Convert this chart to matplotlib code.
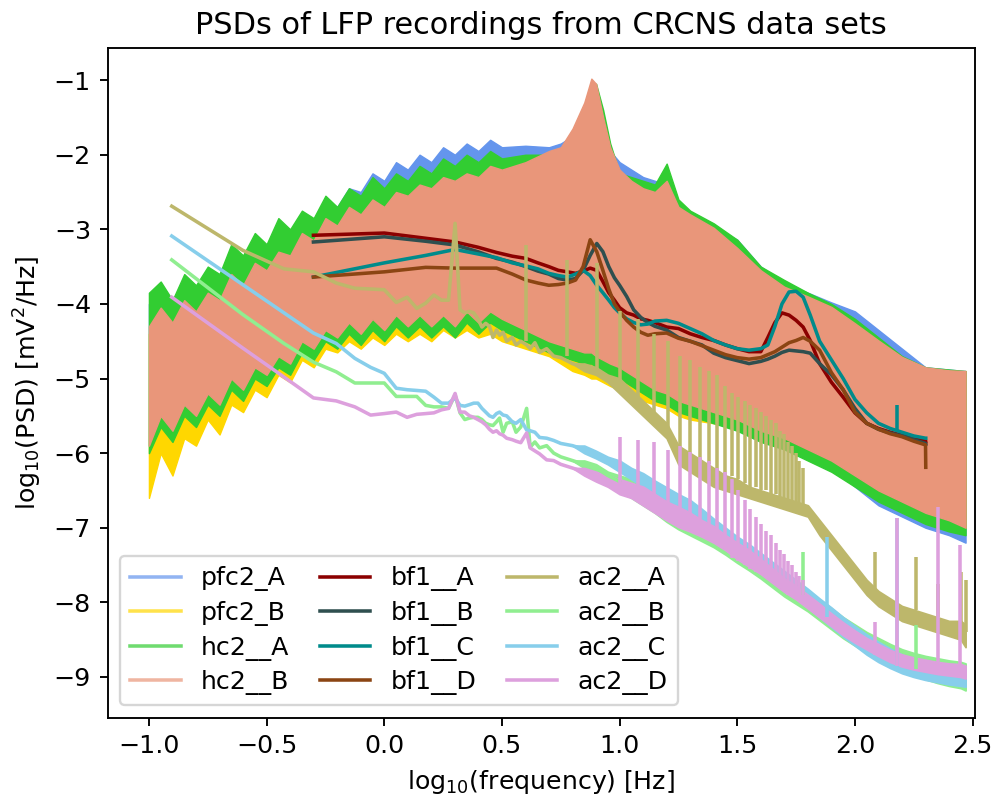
import matplotlib
matplotlib.use("Agg")
import matplotlib.pyplot as plt
import numpy as np

# ---- broadband recordings (pfc2, hc2): envelopes of the dense PSD traces ----
xk = [-1.0, -0.95, -0.9, -0.85, -0.8, -0.75, -0.7, -0.65, -0.6, -0.55, -0.5, -0.45,
      -0.4, -0.35, -0.3, -0.25, -0.2, -0.15, -0.1, -0.05, 0.0, 0.05, 0.1, 0.15, 0.2,
      0.25, 0.3, 0.35, 0.4, 0.45, 0.5, 0.6, 0.7, 0.75, 0.8, 0.85, 0.88, 0.9, 0.93,
      0.96, 1.0, 1.05, 1.1, 1.15, 1.2, 1.25, 1.3, 1.4, 1.5, 1.6, 1.7, 1.8, 1.9, 2.0,
      2.1, 2.2, 2.3, 2.4, 2.47]

pfc2_a_hi = [-4.0, -3.85, -4.05, -3.75, -3.9, -3.65, -3.75, -3.4, -3.5, -3.2, -3.3, -3.0,
             -3.1, -2.8, -2.9, -2.6, -2.7, -2.45, -2.5, -2.25, -2.35, -2.1, -2.2, -2.0, -2.1,
             -1.9, -2.0, -1.85, -1.95, -1.8, -1.9, -1.88, -1.9, -1.85, -1.75, -1.45, -1.2, -1.15, -1.55,
             -1.95, -2.1, -2.2, -2.3, -2.35, -2.4, -2.62, -2.78, -2.97, -3.14, -3.5, -3.72, -3.85, -3.98, -4.1,
             -4.35, -4.6, -4.85, -4.88, -4.9]
pfc2_a_lo = [-5.9, -5.55, -5.75, -5.4, -5.55, -5.25, -5.4, -5.05, -5.2, -4.9, -5.0, -4.75,
             -4.85, -4.55, -4.65, -4.4, -4.5, -4.3, -4.45, -4.25, -4.4, -4.2, -4.35, -4.2, -4.35,
             -4.2, -4.35, -4.15, -4.3, -4.15, -4.25, -4.45, -4.6, -4.65, -4.7, -4.75, -4.75, -4.8, -4.85,
             -4.9, -4.95, -5.05, -5.15, -5.25, -5.3, -5.4, -5.45, -5.55, -5.65, -5.8, -5.9, -6.05, -6.2, -6.45,
             -6.7, -6.85, -7.0, -7.1, -7.2]

pfc2_b_hi = [-4.4, -4.2, -4.35, -4.05, -4.2, -3.95, -4.05, -3.7, -3.85, -3.55, -3.65, -3.4,
             -3.45, -3.15, -3.25, -2.95, -3.05, -2.8, -2.9, -2.7, -2.8, -2.6, -2.65, -2.5, -2.55,
             -2.4, -2.45, -2.35, -2.4, -2.25, -2.3, -2.2, -2.05, -2.0, -1.75, -1.4, -1.1, -1.15, -1.6,
             -2.0, -2.3, -2.45, -2.55, -2.6, -2.45, -2.8, -2.9, -3.1, -3.35, -3.65, -3.85, -4.0, -4.15, -4.35,
             -4.6, -4.8, -4.95, -4.95, -4.9]
pfc2_b_lo = [-6.6, -6.0, -6.3, -5.8, -5.9, -5.55, -5.75, -5.35, -5.45, -5.15, -5.25, -4.95,
             -5.05, -4.75, -4.85, -4.6, -4.65, -4.5, -4.6, -4.45, -4.55, -4.4, -4.5, -4.4, -4.5,
             -4.35, -4.45, -4.35, -4.45, -4.4, -4.5, -4.6, -4.7, -4.8, -4.9, -4.95, -5.0, -5.0, -5.05,
             -5.1, -5.15, -5.2, -5.3, -5.35, -5.4, -5.5, -5.55, -5.6, -5.65, -5.8, -5.9, -6.0, -6.15, -6.3,
             -6.5, -6.65, -6.8, -6.9, -7.0]

hc2_a_hi = [-3.85, -3.7, -3.95, -3.6, -3.75, -3.5, -3.6, -3.2, -3.35, -3.05, -3.2, -2.85,
            -3.0, -2.75, -2.85, -2.55, -2.7, -2.45, -2.55, -2.3, -2.45, -2.25, -2.35, -2.15, -2.25,
            -2.05, -2.15, -2.0, -2.1, -1.95, -2.05, -2.0, -2.0, -1.95, -1.75, -1.35, -1.05, -1.05, -1.4,
            -1.85, -2.25, -2.3, -2.35, -2.4, -2.12, -2.6, -2.75, -2.92, -3.14, -3.5, -3.68, -3.85, -4.0, -4.2,
            -4.45, -4.7, -4.85, -4.88, -4.9]
hc2_a_lo = [-6.0, -5.65, -5.85, -5.5, -5.65, -5.35, -5.5, -5.15, -5.3, -5.0, -5.1, -4.85,
            -4.95, -4.65, -4.75, -4.5, -4.6, -4.4, -4.55, -4.35, -4.5, -4.3, -4.45, -4.3, -4.45,
            -4.3, -4.45, -4.25, -4.4, -4.25, -4.35, -4.5, -4.65, -4.7, -4.75, -4.8, -4.8, -4.85, -4.9,
            -4.95, -5.0, -5.1, -5.2, -5.3, -5.35, -5.45, -5.5, -5.6, -5.7, -5.85, -5.95, -6.1, -6.25, -6.45,
            -6.65, -6.8, -6.95, -7.05, -7.1]

hc2_b_hi = [-4.3, -4.05, -4.25, -3.95, -4.1, -3.85, -3.95, -3.6, -3.75, -3.45, -3.55, -3.3,
            -3.35, -3.05, -3.15, -2.85, -2.95, -2.7, -2.8, -2.6, -2.7, -2.5, -2.55, -2.4, -2.45,
            -2.3, -2.35, -2.25, -2.3, -2.15, -2.2, -2.1, -1.95, -1.9, -1.65, -1.3, -0.98, -1.05, -1.5,
            -1.9, -2.2, -2.35, -2.45, -2.5, -2.35, -2.7, -2.8, -2.98, -3.25, -3.55, -3.77, -3.9, -4.04, -4.26,
            -4.49, -4.71, -4.85, -4.89, -4.9]
hc2_b_lo = [-5.9, -5.5, -5.7, -5.35, -5.5, -5.2, -5.35, -5.0, -5.15, -4.85, -4.95, -4.7,
            -4.8, -4.5, -4.6, -4.35, -4.45, -4.25, -4.4, -4.2, -4.35, -4.15, -4.3, -4.15, -4.3,
            -4.15, -4.3, -4.1, -4.25, -4.1, -4.2, -4.35, -4.5, -4.55, -4.6, -4.65, -4.65, -4.7, -4.75,
            -4.8, -4.85, -4.95, -5.05, -5.15, -5.2, -5.3, -5.35, -5.45, -5.55, -5.7, -5.8, -5.95, -6.1, -6.3,
            -6.5, -6.65, -6.8, -6.9, -7.0]

# ---- bf1 recordings (log10 frequency, log10 PSD) ----
bf1_x = [-0.301, 0.0, 0.176, 0.301, 0.398, 0.477, 0.544, 0.602, 0.653, 0.699, 0.74, 0.778,
         0.813, 0.845, 0.875, 0.903, 0.929, 0.954, 0.978, 1.0, 1.03, 1.06, 1.09, 1.12, 1.15,
         1.2, 1.25, 1.3, 1.35, 1.4, 1.45, 1.5, 1.55, 1.6, 1.63, 1.66, 1.69, 1.72, 1.75, 1.78,
         1.81, 1.85, 1.9, 1.95, 2.0, 2.05, 2.1, 2.15, 2.2, 2.25, 2.3, 2.301]
bf1_a = [-3.08, -3.05, -3.12, -3.17, -3.24, -3.31, -3.36, -3.39, -3.45, -3.5, -3.55, -3.57,
         -3.59, -3.56, -3.52, -3.55, -3.7, -3.85, -3.95, -4.05, -4.12, -4.15, -4.2, -4.22, -4.25,
         -4.31, -4.33, -4.4, -4.45, -4.49, -4.55, -4.6, -4.64, -4.64, -4.45, -4.25, -4.12, -4.15, -4.22, -4.31,
         -4.49, -4.8, -5.05, -5.25, -5.46, -5.6, -5.67, -5.72, -5.76, -5.8, -5.83, -5.85]
bf1_b = [-3.17, -3.1, -3.16, -3.21, -3.3, -3.39, -3.44, -3.5, -3.56, -3.6, -3.66, -3.68,
         -3.66, -3.55, -3.35, -3.19, -3.3, -3.5, -3.65, -3.75, -3.9, -4.08, -4.18, -4.25, -4.3,
         -4.35, -4.45, -4.5, -4.55, -4.66, -4.72, -4.76, -4.8, -4.77, -4.74, -4.7, -4.65, -4.62, -4.63, -4.64,
         -4.66, -4.8, -4.95, -5.15, -5.4, -5.6, -5.68, -5.73, -5.77, -5.82, -5.87, -5.88]
bf1_c = [-3.64, -3.45, -3.35, -3.27, -3.33, -3.38, -3.45, -3.49, -3.53, -3.59, -3.62, -3.64,
         -3.6, -3.55, -3.62, -3.75, -3.85, -3.95, -4.05, -4.12, -4.2, -4.25, -4.28, -4.27, -4.23,
         -4.22, -4.26, -4.33, -4.4, -4.49, -4.55, -4.6, -4.62, -4.6, -4.55, -4.3, -4.0, -3.84, -3.83, -3.91,
         -4.15, -4.5, -4.75, -5.0, -5.28, -5.46, -5.6, -5.67, -5.72, -5.77, -5.8, -5.8]
bf1_d = [-3.64, -3.57, -3.51, -3.52, -3.52, -3.52, -3.6, -3.68, -3.72, -3.75, -3.74, -3.72,
         -3.68, -3.5, -3.14, -3.3, -3.55, -3.8, -4.0, -4.1, -4.22, -4.31, -4.38, -4.42, -4.4,
         -4.39, -4.46, -4.5, -4.56, -4.62, -4.68, -4.72, -4.74, -4.72, -4.68, -4.64, -4.58, -4.52, -4.49, -4.45,
         -4.5, -4.62, -4.92, -5.15, -5.45, -5.6, -5.68, -5.74, -5.78, -5.84, -5.89, -6.19]
# narrow line-noise peak in bf1__C
bf1_c_spike_x = [2.178]
bf1_c_spike_lo = [-5.7]
bf1_c_spike_hi = [-5.36]

# ---- ac2 recordings: low-frequency trace, high-frequency noise band, harmonic spikes ----
ac2_x = [-0.903, -0.602, -0.426, -0.301, -0.204, -0.125, -0.058, 0.0, 0.051, 0.097, 0.138,
         0.176, 0.211, 0.243, 0.273, 0.301, 0.322, 0.342, 0.362, 0.38, 0.398, 0.415, 0.431,
         0.447, 0.462, 0.477, 0.49, 0.505, 0.52, 0.544, 0.56, 0.58, 0.605, 0.62, 0.64, 0.66,
         0.69, 0.72, 0.75, 0.8, 0.85, 0.9, 0.95, 1.0]
ac2_a = [-2.69, -3.28, -3.53, -3.57, -3.72, -3.79, -3.8, -3.81, -3.98, -3.91, -4.06,
         -3.99, -3.88, -3.95, -3.95, -2.92, -4.08, -4.12, -4.1, -4.12, -4.2, -4.31, -4.26,
         -4.3, -4.45, -4.35, -4.42, -4.38, -4.5, -4.45, -4.55, -4.5, -4.55, -4.6, -4.52, -4.65,
         -4.6, -4.7, -4.72, -4.8, -4.85, -4.9, -5.0, -5.1]
ac2_b = [-3.41, -4.14, -4.53, -4.78, -4.91, -5.06, -5.06, -5.06, -5.24, -5.24, -5.24,
         -5.36, -5.38, -5.38, -5.4, -5.22, -5.46, -5.55, -5.53, -5.52, -5.52, -5.55, -5.6,
         -5.62, -5.63, -5.58, -5.53, -5.72, -5.6, -5.58, -5.72, -5.65, -5.4, -5.92, -5.85, -5.93,
         -5.9, -6.0, -6.05, -6.1, -6.15, -6.2, -6.3, -6.38]
ac2_c = [-3.09, -3.74, -4.12, -4.39, -4.53, -4.73, -4.85, -4.93, -5.13, -5.15, -5.16,
         -5.17, -5.25, -5.33, -5.33, -5.26, -5.36, -5.37, -5.35, -5.33, -5.33, -5.4, -5.45,
         -5.5, -5.52, -5.47, -5.45, -5.49, -5.5, -5.58, -5.6, -5.55, -5.69, -5.7, -5.72, -5.79,
         -5.8, -5.83, -5.87, -5.9, -5.95, -6.02, -6.1, -6.15]
ac2_d = [-3.91, -4.59, -4.98, -5.26, -5.3, -5.38, -5.49, -5.47, -5.45, -5.52, -5.48,
         -5.47, -5.46, -5.42, -5.4, -5.2, -5.45, -5.45, -5.5, -5.52, -5.55, -5.58, -5.62,
         -5.68, -5.72, -5.7, -5.74, -5.76, -5.8, -5.82, -5.84, -5.86, -5.73, -5.93, -5.97, -6.01,
         -6.09, -6.1, -6.15, -6.2, -6.25, -6.3, -6.38, -6.45]

ac2_band_x = [0.8, 0.85, 0.9, 0.95, 1.0, 1.05, 1.1, 1.15, 1.2, 1.25, 1.3, 1.35, 1.4, 1.45,
              1.5, 1.55, 1.6, 1.65, 1.7, 1.75, 1.8, 1.85, 1.9, 1.95, 2.0, 2.05, 2.1, 2.15,
              2.2, 2.25, 2.3, 2.35, 2.4, 2.45, 2.47]
ac2_a_hi = [-4.8, -4.8, -4.85, -4.95, -5.0, -5.15, -5.3, -5.45, -5.6, -5.9, -6.0, -6.1, -6.2, -6.3,
            -6.35, -6.45, -6.5, -6.55, -6.6, -6.65, -6.7, -6.9, -7.1, -7.3, -7.5, -7.7, -7.85, -7.95,
            -8.05, -8.1, -8.15, -8.2, -8.25, -8.25, -8.3]
ac2_a_lo = [-4.8, -4.9, -4.95, -5.05, -5.2, -5.35, -5.5, -5.65, -5.8, -6.15, -6.25, -6.35, -6.45, -6.5,
            -6.55, -6.6, -6.65, -6.7, -6.75, -6.8, -6.85, -7.1, -7.3, -7.5, -7.7, -7.9, -8.05, -8.15,
            -8.25, -8.3, -8.35, -8.4, -8.45, -8.5, -8.6]
ac2_b_hi = [-6.1, -6.1, -6.15, -6.25, -6.3, -6.35, -6.4, -6.5, -6.6, -6.7, -6.78, -6.88, -6.98, -7.1,
            -7.2, -7.3, -7.42, -7.53, -7.64, -7.74, -7.84, -7.96, -8.08, -8.2, -8.3, -8.4, -8.48, -8.56,
            -8.63, -8.68, -8.72, -8.75, -8.78, -8.8, -8.82]
ac2_b_lo = [-6.1, -6.2, -6.25, -6.4, -6.5, -6.6, -6.7, -6.8, -6.92, -7.02, -7.1, -7.18, -7.26, -7.36,
            -7.47, -7.57, -7.68, -7.8, -7.92, -8.02, -8.12, -8.24, -8.36, -8.48, -8.58, -8.68, -8.77, -8.85,
            -8.92, -8.98, -9.03, -9.08, -9.12, -9.15, -9.18]
ac2_c_hi = [-5.9, -5.9, -5.97, -6.05, -6.1, -6.2, -6.27, -6.37, -6.46, -6.55, -6.63, -6.75, -6.88, -7.0,
            -7.12, -7.22, -7.34, -7.46, -7.58, -7.7, -7.82, -7.95, -8.07, -8.2, -8.32, -8.43, -8.53, -8.62,
            -8.7, -8.76, -8.8, -8.84, -8.88, -8.9, -8.92]
ac2_c_lo = [-5.9, -6.0, -6.07, -6.15, -6.25, -6.35, -6.45, -6.55, -6.65, -6.75, -6.85, -6.98, -7.1, -7.22,
            -7.35, -7.46, -7.58, -7.7, -7.82, -7.95, -8.07, -8.2, -8.33, -8.46, -8.58, -8.7, -8.8, -8.88,
            -8.95, -9.0, -9.04, -9.07, -9.1, -9.12, -9.13]
ac2_d_hi = [-6.2, -6.2, -6.25, -6.3, -6.35, -6.4, -6.45, -6.55, -6.65, -6.72, -6.8, -6.9, -6.98, -7.1,
            -7.2, -7.3, -7.42, -7.55, -7.68, -7.78, -7.9, -8.02, -8.15, -8.27, -8.38, -8.48, -8.56, -8.64,
            -8.7, -8.74, -8.77, -8.8, -8.82, -8.83, -8.85]
ac2_d_lo = [-6.2, -6.3, -6.38, -6.45, -6.55, -6.6, -6.7, -6.8, -6.9, -6.99, -7.05, -7.12, -7.2, -7.3,
            -7.42, -7.52, -7.62, -7.74, -7.86, -7.96, -8.08, -8.2, -8.32, -8.44, -8.54, -8.63, -8.72, -8.8,
            -8.86, -8.9, -8.93, -8.96, -8.98, -9.0, -9.02]

# harmonic peaks (every 2 Hz) in log10 frequency
ac2_a_spike_x = [0.602, 0.778, 0.903, 1.0, 1.079, 1.146, 1.204, 1.255, 1.301, 1.342, 1.38, 1.415,
                 1.447, 1.477, 1.505, 1.531, 1.556, 1.58, 1.602, 1.623, 1.643, 1.663, 1.681, 1.699,
                 1.716, 1.732, 1.748, 1.763, 1.778, 2.085, 2.26, 2.355, 2.45, 2.47]
ac2_a_spike_lo = [-4.5, -4.7, -4.9, -5.1, -5.3, -5.45, -5.65, -5.95, -6.0, -6.1, -6.15, -6.25,
                  -6.3, -6.3, -6.35, -6.4, -6.45, -6.45, -6.5, -6.5, -6.55, -6.55, -6.6, -6.6,
                  -6.65, -6.65, -6.65, -6.7, -6.7, -7.9, -8.1, -8.2, -8.3, -8.4]
ac2_a_spike_hi = [-3.21, -3.41, -3.45, -4.1, -4.2, -4.4, -4.5, -4.7, -4.75, -4.85, -4.9, -4.95,
                  -5.1, -5.2, -5.25, -5.3, -5.35, -5.4, -5.45, -5.5, -5.55, -5.6, -5.7, -5.75,
                  -5.85, -5.9, -6.0, -6.1, -6.2, -7.33, -7.39, -7.75, -7.6, -7.7]
ac2_b_spike_x = [1.78, 2.26]
ac2_b_spike_lo = [-7.9, -8.9]
ac2_b_spike_hi = [-7.33, -8.3]
ac2_c_spike_x = [1.88, 2.18]
ac2_c_spike_lo = [-8.2, -8.9]
ac2_c_spike_hi = [-7.13, -6.87]
ac2_d_spike_x = [1.0, 1.079, 1.146, 1.204, 1.255, 1.301, 1.342, 1.38, 1.415, 1.447, 1.477, 1.505,
                 1.531, 1.556, 1.58, 1.602, 1.623, 1.643, 1.663, 1.681, 1.699, 1.716, 1.732, 1.748,
                 1.763, 1.778, 2.085, 2.18, 2.355, 2.445]
ac2_d_spike_lo = [-6.5, -6.65, -6.75, -6.85, -6.95, -7.05, -7.1, -7.15, -7.2, -7.3, -7.4, -7.45,
                  -7.5, -7.55, -7.6, -7.62, -7.65, -7.7, -7.75, -7.8, -7.85, -7.9, -7.92, -7.95,
                  -7.98, -8.0, -8.7, -8.85, -8.95, -9.0]
ac2_d_spike_hi = [-5.79, -5.83, -5.85, -5.96, -5.9, -5.99, -6.05, -6.1, -6.2, -6.25, -6.35, -6.5,
                  -6.63, -6.75, -6.85, -6.95, -7.05, -7.1, -7.2, -7.3, -7.35, -7.45, -7.5, -7.6,
                  -7.65, -7.7, -8.27, -6.87, -6.72, -7.23]


def main():
    plt.rcParams['font.size'] = 10.7
    fig = plt.figure(figsize=(1002 / 170, 798 / 170), dpi=170)
    ax = fig.add_axes([0.1073, 0.1003, 0.8657, 0.8395])

    broad = [("pfc2_A", "cornflowerblue", pfc2_a_lo, pfc2_a_hi),
             ("pfc2_B", "gold", pfc2_b_lo, pfc2_b_hi),
             ("hc2__A", "limegreen", hc2_a_lo, hc2_a_hi),
             ("hc2__B", "darksalmon", hc2_b_lo, hc2_b_hi)]
    for name, col, lo, hi in broad:
        ax.fill_between(xk, lo, hi, color=col, linewidth=0.6)
        ax.plot([], [], color=col, alpha=0.7, lw=1.5, label=name)

    for name, col, ys in [("bf1__A", "darkred", bf1_a), ("bf1__B", "darkslategray", bf1_b),
                          ("bf1__C", "darkcyan", bf1_c), ("bf1__D", "saddlebrown", bf1_d)]:
        ax.plot(bf1_x, ys, color=col, lw=1.5, label=name)
    ax.vlines(bf1_c_spike_x, bf1_c_spike_lo, bf1_c_spike_hi, color="darkcyan", lw=1.5)

    ac2 = [("ac2__A", "darkkhaki", ac2_a, ac2_a_lo, ac2_a_hi, ac2_a_spike_x, ac2_a_spike_lo, ac2_a_spike_hi),
           ("ac2__B", "lightgreen", ac2_b, ac2_b_lo, ac2_b_hi, ac2_b_spike_x, ac2_b_spike_lo, ac2_b_spike_hi),
           ("ac2__C", "skyblue", ac2_c, ac2_c_lo, ac2_c_hi, ac2_c_spike_x, ac2_c_spike_lo, ac2_c_spike_hi),
           ("ac2__D", "plum", ac2_d, ac2_d_lo, ac2_d_hi, ac2_d_spike_x, ac2_d_spike_lo, ac2_d_spike_hi)]
    for name, col, ys, lo, hi, sx, slo, shi in ac2:
        ax.plot(ac2_x, ys, color=col, lw=1.5, label=name)
        ax.fill_between(ac2_band_x, lo, hi, color=col, linewidth=0.8)
        ax.vlines(sx, slo, shi, color=col, lw=1.5)

    ax.set_xlim(-1.176, 2.51)
    ax.set_ylim(-9.55, -0.57)
    ax.set_yticks(np.arange(-9, 0))
    ax.set_title("PSDs of LFP recordings from CRCNS data sets", fontsize=12.85)
    ax.set_xlabel(r"log$_{10}$(frequency) [Hz]")
    ax.set_ylabel(r"log$_{10}$(PSD) [mV$^2$/Hz]")
    ax.legend(loc="lower left", ncol=3, columnspacing=1.2, labelspacing=0.38)

    fig.savefig("out.png", dpi=170)


if __name__ == "__main__":
    main()
